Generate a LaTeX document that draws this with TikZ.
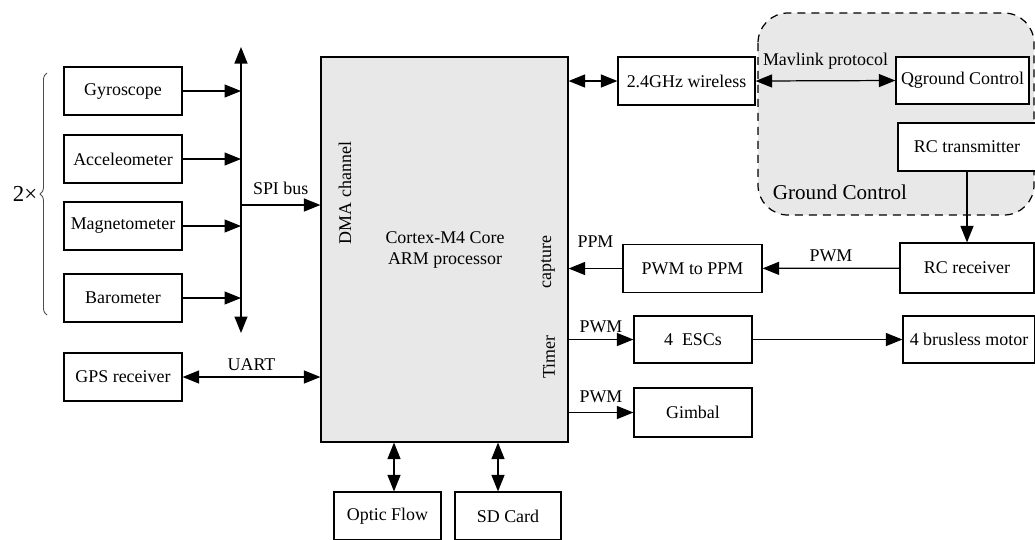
\documentclass[tikz,border=0pt]{standalone}
\usepackage{fontspec}
\setmainfont{Liberation Serif}
\usetikzlibrary{arrows.meta,decorations.pathreplacing}

\begin{document}
\begin{tikzpicture}[x=0.02cm,y=-0.02cm,
        font=\fontsize{10.2}{12}\selectfont,
        line width=0.7pt,
        >={Triangle[length=0.33cm,width=0.26cm]},
        blk/.style={draw,fill=white,minimum width=2.36cm,minimum height=0.96cm,inner sep=1pt}]
    \useasboundingbox (0,0) rectangle (1035,539);
    % ground station area
    \draw[dash pattern=on 0.16cm off 0.12cm,fill=black!9,rounded corners=0.6cm] (758,13) rectangle (1034,215);
    \node[font=\fontsize{12}{14}\selectfont] (gclbl) at (840,192) {Ground Control};
    % processor
    \node[draw,fill=black!9,minimum width=4.94cm,minimum height=7.7cm] (cpu) at (444.5,249.5) {};
    \node[align=center] (core) at (445,250) {Cortex-M4 Core\\ARM processor};
    \node[rotate=90] (dma) at (345,193) {DMA channel};
    \node[rotate=90] (cap) at (548,262) {capture};
    \node[rotate=90] (tim) at (549,357) {Timer};
    % sensors on the bus
    \node[blk] (gyro) at (123,91) {Gyroscope};
    \node[blk] (acc) at (123,159) {Acceleometer};
    \node[blk] (mag) at (123,226) {Magnetometer};
    \node[blk] (baro) at (123,298) {Barometer};
    \node[blk] (gps) at (123,377) {GPS receiver};
    \draw[decorate,decoration={brace,amplitude=4pt},black!70,line width=0.5pt] (47,315) -- (47,73) node[midway,left=2pt,black,font=\fontsize{13}{15}\selectfont] (two) {2×};
    \coordinate (bustop) at (241,47);
    \coordinate (busbot) at (241,333);
    \draw[<->] (bustop) -- (busbot);
    \foreach \s in {gyro,acc,mag,baro}
        \draw[->] (\s.east) -- (\s.east -| bustop);
    \coordinate (spi) at (241,205);
    \draw[->] (spi) -- (spi -| cpu.west) node[midway,above=2pt] {SPI bus};
    \draw[<->] (gps) -- (gps -| cpu.west) node[midway,above] {UART};
    % radio link
    \node[blk,minimum width=2.74cm] (wls) at (686.5,81) {2.4GHz wireless};
    \draw[<->] (wls.west -| cpu.east) -- (wls.west);
    \node[blk,minimum width=2.66cm,minimum height=0.94cm] (qgc) at (962.5,80.5) {Qground Control};
    \draw[<->] (wls.east) -- (qgc.west) node[midway,above=3pt] {Mavlink protocol};
    \node[blk,minimum width=2.76cm] (rctx) at (967,147) {RC transmitter};
    \node[blk,minimum width=2.68cm,minimum height=1cm] (rcrx) at (967,268) {RC receiver};
    \draw[->] (rctx) -- (rcrx);
    \node[blk,minimum width=2.78cm] (ppm) at (692.5,268.5) {PWM to PPM};
    \draw[->] (rcrx) -- (ppm) node[midway,above] {PWM};
    \draw[->] (ppm) -- (ppm -| cpu.east) node[midway,above=8pt] {PPM};
    % outputs
    \node[blk,minimum height=0.94cm] (esc) at (693,339.5) {4\ \ ESCs};
    \node[blk,minimum width=2.64cm,minimum height=0.94cm] (motor) at (969,339.5) {4 brusless motor};
    \draw[->] (esc.west -| cpu.east) -- (esc.west) node[midway,above] {PWM};
    \draw[->] (esc) -- (motor);
    \node[blk,minimum height=0.98cm] (gim) at (693,412.5) {Gimbal};
    \draw[->] (gim.west -| cpu.east) -- (gim.west) node[midway,above=2pt] {PWM};
    % bottom
    \node[blk,minimum width=2.14cm] (optic) at (387.5,516) {Optic Flow};
    \node[blk,minimum width=2.12cm] (sd) at (508,516) {SD Card};
    \draw[<->] ([xshift=0.13cm]optic.north) -- ([xshift=0.13cm]optic.north |- cpu.south);
    \draw[<->] ([xshift=-0.2cm]sd.north) -- ([xshift=-0.2cm]sd.north |- cpu.south);
\end{tikzpicture}
\end{document}
